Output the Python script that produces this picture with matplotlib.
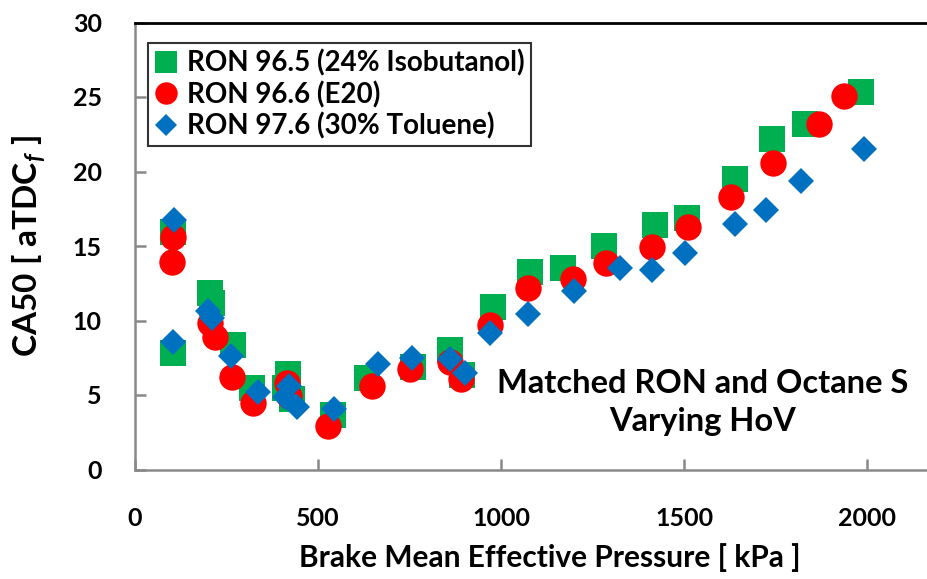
import numpy as np
import matplotlib
matplotlib.use("Agg")
import matplotlib.pyplot as plt

plt.rcParams['font.family'] = ['Lato', 'DejaVu Sans']
plt.rcParams['font.weight'] = 'bold'
plt.rcParams['mathtext.fontset'] = 'custom'
plt.rcParams['mathtext.rm'] = 'Lato:bold'
plt.rcParams['mathtext.it'] = 'Lato:bold:italic'

# RON 96.5 (24% Isobutanol)
iso_x = [103, 105, 205, 210, 267, 320, 417, 410, 430, 541, 635, 760, 861, 893,
         978, 1079, 1169, 1281, 1421, 1507, 1639, 1741, 1831, 1984]
iso_y = [15.96, 7.8, 11.85, 11.17, 8.36, 5.47, 6.43, 5.47, 4.73, 3.66, 6.13, 6.9, 8.02, 6.34,
         10.9, 13.25, 13.5, 15.0, 16.4, 16.86, 19.5, 22.16, 23.17, 25.36]

# RON 96.6 (E20)
e20_x = [103, 101, 205, 219, 264, 323, 416, 422, 527, 647, 751, 861, 890,
         970, 1074, 1197, 1287, 1413, 1512, 1628, 1744, 1870, 1938]
e20_y = [15.58, 13.95, 9.81, 8.91, 6.23, 4.44, 5.79, 4.93, 2.92, 5.6, 6.72, 7.23, 6.05,
         9.7, 12.18, 12.79, 13.86, 14.95, 16.25, 18.27, 20.6, 23.17, 25.07]

# RON 97.6 (30% Toluene)
tol_x = [107, 105, 200, 210, 262, 337, 422, 410, 442, 544, 665, 756, 861, 902,
         970, 1074, 1199, 1325, 1413, 1503, 1639, 1723, 1820, 1993]
tol_y = [16.74, 8.54, 10.66, 10.15, 7.62, 5.22, 5.6, 4.89, 4.21, 4.04, 7.1, 7.46, 7.4, 6.5,
         9.16, 10.44, 11.98, 13.52, 13.39, 14.55, 16.46, 17.42, 19.36, 21.49]

fig = plt.figure(figsize=(9.28, 5.79), dpi=100)
ax = fig.add_axes([135/928, 1 - 469.5/579, 2200*0.366/928, (469.5 - 22.5)/579])

ax.plot(iso_x, iso_y, 's', color='#00B050', ms=19, mew=0, label='RON 96.5 (24% Isobutanol)')
ax.plot(e20_x, e20_y, 'o', color='#FF0000', ms=19, mew=0, label='RON 96.6 (E20)')
ax.plot(tol_x, tol_y, 'D', color='#0070C0', ms=13.5, mew=0, label='RON 97.6 (30% Toluene)')

ax.set_xlim(0, 2200)
ax.set_ylim(0, 30)
ax.set_xticks([0, 500, 1000, 1500, 2000])
ax.set_yticks([0, 5, 10, 15, 20, 25, 30])

for s in ['left', 'bottom']:
    ax.spines[s].set_color('#898989')
    ax.spines[s].set_linewidth(1.8)
ax.spines['top'].set_color('black')
ax.spines['top'].set_linewidth(2)
ax.spines['right'].set_visible(False)

ax.tick_params(axis='both', direction='in', length=8, width=1.8, color='#898989',
               labelsize=18, pad=24)
ax.tick_params(axis='x', pad=27)
ax.tick_params(top=False, right=False)

ax.set_xlabel('Brake Mean Effective Pressure [ kPa ]', fontsize=21.5, fontweight='bold')
ax.xaxis.set_label_coords((550 - 135) / (2200*0.366), -0.165)
ax.set_ylabel('CA50 [ aTDC$_{f}$ ]', fontsize=24, fontweight='bold')
ax.yaxis.set_label_coords(-0.108, 0.5)

leg = ax.legend(loc='upper left', bbox_to_anchor=(0.016, 0.955), fontsize=20,
                frameon=True, fancybox=False, handlelength=0.8, handletextpad=0.35,
                borderpad=0.25, labelspacing=0.15, borderaxespad=0, markerscale=0.85)
leg.get_frame().set_edgecolor('black')
leg.get_frame().set_linewidth(1.5)

ax.text(1550, 4.5, 'Matched RON and Octane S\nVarying HoV', ha='center', va='center',
        fontsize=23.5, fontweight='bold', linespacing=1.4)

fig.savefig('out.png', dpi=100)
